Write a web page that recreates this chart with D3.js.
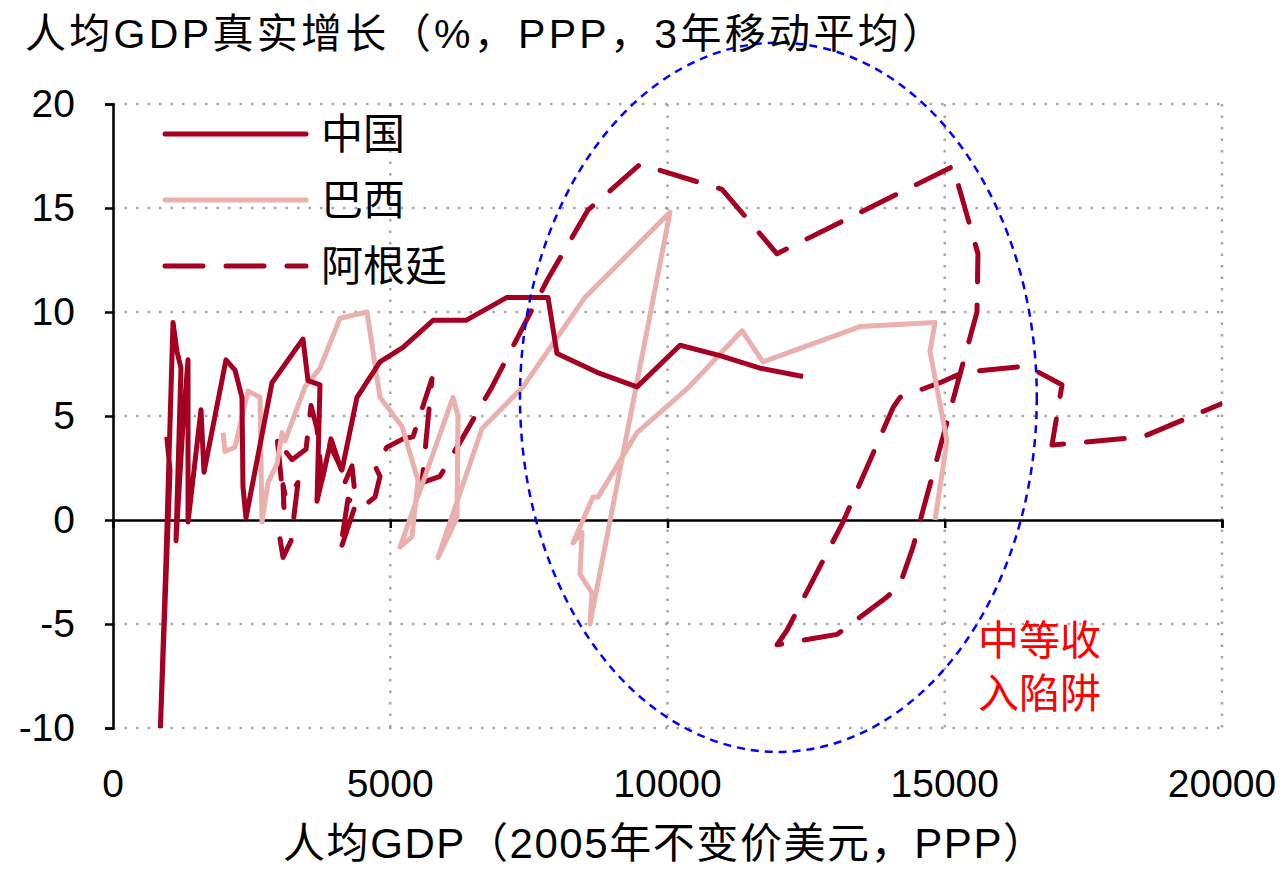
<!DOCTYPE html>
<html>
<head>
<meta charset="utf-8">
<script src="https://cdn.jsdelivr.net/npm/d3@7/dist/d3.min.js"></script>
<style>
  body { margin: 0; background: #fff; }
  text { font-family: "Liberation Sans", Arial, "Noto Sans CJK SC", sans-serif; }
</style>
</head>
<body>
<div id="chart"></div>
<script>
// data
var xTicks = [0, 5000, 10000, 15000, 20000];
var yTicks = [-10, -5, 0, 5, 10, 15, 20];

var chinaGdp = [970, 1028, 848, 956, 1082, 1154, 1226, 1136, 1262, 1353, 1353, 1587, 1641, 2038, 2200, 2326, 2344, 2398, 2867, 3426, 3517, 3733, 3679, 3913, 4130, 4400, 4815, 5230, 5771, 6366, 7105, 7845, 8007, 8729, 9450, 10226, 10947, 11668, 12444];
var chinaGrowth = [4.0, 2.4, -10.5, -1.9, 9.5, 8.1, 7.3, -1.0, 4.6, 7.7, -0.1, 5.3, 2.3, 7.7, 7.2, 5.9, 1.6, 0.1, 6.6, 8.7, 6.7, 6.5, 0.9, 3.6, 2.4, 5.9, 7.6, 8.3, 9.6, 9.6, 10.7, 10.7, 8.0, 7.1, 6.4, 8.4, 7.9, 7.3, 6.9];

var brazilGdp = [1984, 2020, 2200, 2435, 2651, 2687, 2795, 2958, 3048, 3102, 3463, 3733, 4094, 4581, 4815, 5212, 5500, 5392, 5176, 6132, 6222, 6204, 5861, 6655, 7394, 8512, 10045, 8602, 8638, 8422, 8458, 8296, 8656, 8746, 9450, 10352, 11343, 11722, 13471, 14824, 14734, 15040, 14824];
var brazilGrowth = [4.2, 3.3, 3.5, 6.2, 5.9, -0.1, 1.8, 2.7, 4.2, 3.8, 6.4, 7.3, 9.7, 10.0, 5.9, 4.5, 1.9, -0.8, -1.3, 5.9, 5.0, 0.1, -1.8, 4.4, 6.4, 10.7, 14.8, -5.0, -3.5, -2.6, -0.6, -1.1, 1.1, 1.1, 4.2, 6.3, 9.1, 7.6, 9.3, 9.5, 8.1, 3.8, 0.0];

var argGdp = [3012, 3066, 3210, 3300, 3336, 3120, 3066, 3084, 2958, 2994, 3228, 3481, 3571, 3679, 3769, 3931, 4130, 4148, 4310, 4382, 4094, 4238, 4490, 4725, 4815, 4725, 4941, 5230, 5410, 5753, 5573, 5897, 6294, 6835, 7340, 7845, 8566, 9504, 10983, 11975, 15149, 15599, 15581, 14427, 14193, 13958, 13057, 11975, 12155, 13165, 14067, 14193, 14914, 15329, 16483, 17114, 16934, 18575, 20000];
var argGrowth = [-0.9, -1.8, -1.0, 1.0, 1.8, 1.0, 1.7, 0.6, 4.0, 3.7, 2.9, 3.4, 5.5, 4.4, 1.9, 3.9, 2.3, 1.6, 2.6, 0.8, -1.5, 1.0, 0.6, 1.1, 2.1, 2.6, 3.5, 3.9, 4.0, 6.8, 1.8, 2.1, 3.9, 6.4, 9.0, 11.6, 14.9, 17.1, 15.9, 12.8, 17.0, 12.8, 10.0, -1.3, -3.1, -3.7, -5.5, -6.0, -5.3, -0.1, 5.4, 5.9, 6.6, 7.1, 7.4, 6.5, 3.6, 4.0, 5.6];

var seriesNames = ["中国", "巴西", "阿根廷"];
var seriesColors = ["#a50021", "#e9b0ad", "#a50021"];

// middle income trap circle (data units)
var trapCenter = [12000, 5.9];
var trapRadius = [4660, 17.05];

var svgWidth = 1288, svgHeight = 872;
var margin = { top: 104, right: 66, bottom: 144, left: 113 };
var width = svgWidth - margin.left - margin.right;
var height = svgHeight - margin.top - margin.bottom;

var svg = d3.select("#chart").append("svg")
  .attr("width", svgWidth)
  .attr("height", svgHeight);

var chartGroup = svg.append("g")
  .attr("transform", `translate(${margin.left}, ${margin.top})`);

var xScale = d3.scaleLinear().domain([0, 20000]).range([0, width]);
var yScale = d3.scaleLinear().domain([-10, 20]).range([height, 0]);

// dotted grid
chartGroup.selectAll(".hgrid")
  .data(yTicks.filter(d => d !== 0))
  .enter().append("line")
  .attr("x1", 0).attr("x2", width)
  .attr("y1", d => yScale(d)).attr("y2", d => yScale(d))
  .attr("stroke", "#a6a6a6").attr("stroke-width", 2.5)
  .attr("stroke-dasharray", "2.5,9");

chartGroup.selectAll(".vgrid")
  .data(xTicks.filter(d => d !== 0))
  .enter().append("line")
  .attr("x1", d => xScale(d)).attr("x2", d => xScale(d))
  .attr("y1", 0).attr("y2", height)
  .attr("stroke", "#a6a6a6").attr("stroke-width", 2.5)
  .attr("stroke-dasharray", "2.5,9");

// axes
var leftAxis = d3.axisLeft(yScale).tickValues(yTicks).tickSize(8).tickPadding(30)
  .tickFormat(d => String(d));
var yAxisG = chartGroup.append("g").call(leftAxis);
yAxisG.select(".domain").attr("stroke", "#000").attr("stroke-width", 2.5);
yAxisG.selectAll(".tick line").attr("stroke", "#000").attr("stroke-width", 2.5);
yAxisG.selectAll("text").attr("font-size", "39px").attr("fill", "#000")
  .attr("font-family", "Liberation Sans, Arial, sans-serif");

var bottomAxis = d3.axisBottom(xScale).tickValues(xTicks).tickSize(8).tickFormat("");
var xAxisG = chartGroup.append("g")
  .attr("transform", `translate(0, ${yScale(0)})`)
  .call(bottomAxis);
xAxisG.select(".domain").attr("stroke", "#000").attr("stroke-width", 2.5);
xAxisG.selectAll(".tick line").attr("stroke", "#000").attr("stroke-width", 2.5);

chartGroup.selectAll(".xlab")
  .data(xTicks)
  .enter().append("text")
  .attr("x", d => xScale(d))
  .attr("y", height + 69)
  .attr("text-anchor", "middle")
  .attr("font-size", "39px")
  .text(d => d);

// clip to plot area
svg.append("clipPath").attr("id", "plotclip")
  .append("rect").attr("x", 0).attr("y", -2).attr("width", width).attr("height", height + 2);

var line = d3.line()
  .x(d => xScale(d[0]))
  .y(d => yScale(d[1]));

var series = [
  chinaGdp.map((g, i) => [g, chinaGrowth[i]]),
  brazilGdp.map((g, i) => [g, brazilGrowth[i]]),
  argGdp.map((g, i) => [g, argGrowth[i]])
];

var linesGroup = chartGroup.append("g").attr("clip-path", "url(#plotclip)");
// draw order: argentina, brazil, china
[2, 1, 0].forEach(function (k) {
  linesGroup.append("path")
    .datum(series[k])
    .attr("d", line)
    .attr("fill", "none")
    .attr("stroke", seriesColors[k])
    .attr("stroke-width", 5)
    .attr("stroke-linejoin", "round")
    .attr("stroke-linecap", k === 2 ? "round" : "butt")
    .attr("stroke-dasharray", k === 2 ? "38,23" : null);
});

// blue dashed circle
chartGroup.append("ellipse")
  .attr("cx", xScale(trapCenter[0]))
  .attr("cy", yScale(trapCenter[1]))
  .attr("rx", xScale(trapRadius[0]) - xScale(0))
  .attr("ry", yScale(0) - yScale(trapRadius[1]))
  .attr("fill", "none")
  .attr("stroke", "#0000ff")
  .attr("stroke-width", 2.5)
  .attr("stroke-dasharray", "8,6");

// trap label
var trapText = chartGroup.append("text")
  .attr("x", 865)
  .attr("y", 551)
  .attr("fill", "#ff0000")
  .attr("font-size", "41px")
  .attr("font-family", "Noto Sans CJK SC, sans-serif");
trapText.append("tspan").attr("x", 865).attr("dy", 0).text("中等收");
trapText.append("tspan").attr("x", 865).attr("dy", 53).text("入陷阱");

// legend
var legend = chartGroup.append("g");
seriesNames.forEach(function (name, i) {
  var ly = 30 + i * 66;
  legend.append("line")
    .attr("x1", 52).attr("x2", 193)
    .attr("y1", ly).attr("y2", ly)
    .attr("stroke", seriesColors[i])
    .attr("stroke-width", 5)
    .attr("stroke-linecap", "round")
    .attr("stroke-dasharray", i === 2 ? "38,23" : null);
  legend.append("text")
    .attr("x", 208).attr("y", ly + 15)
    .attr("font-size", "42px")
    .attr("font-family", "Noto Sans CJK SC, sans-serif")
    .text(name);
});

// titles
svg.append("text")
  .attr("x", 25).attr("y", 48)
  .attr("font-size", "41px")
  .attr("textLength", 918)
  .attr("lengthAdjust", "spacing")
  .text("人均GDP真实增长（%，PPP，3年移动平均）");

svg.append("text")
  .attr("x", 283).attr("y", 858)
  .attr("font-size", "42px")
  .attr("textLength", 762)
  .attr("lengthAdjust", "spacing")
  .text("人均GDP（2005年不变价美元，PPP）");
</script>
</body>
</html>
